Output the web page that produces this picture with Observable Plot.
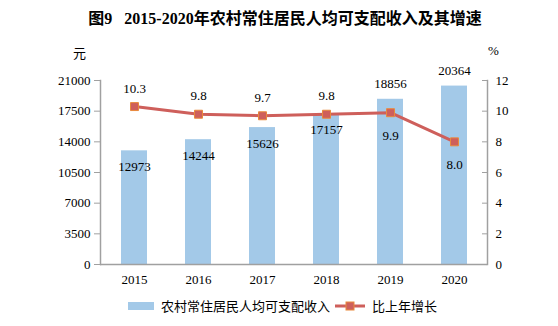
<!DOCTYPE html>
<html><head><meta charset="utf-8">
<script src="https://cdn.jsdelivr.net/npm/d3@7"></script>
<script src="https://cdn.jsdelivr.net/npm/@observablehq/plot@0.6"></script>
<style>
body{margin:0;background:#fff;}
#wrap{position:relative;width:558px;height:326px;overflow:hidden;font-family:"Liberation Serif","Noto Sans CJK SC",serif;color:#000;}
#title{position:absolute;left:0;width:570px;top:5px;text-align:center;font-size:16px;font-weight:bold;font-family:"Liberation Serif","Noto Sans CJK SC",serif;}
.unit{position:absolute;top:43px;font-size:13px;font-family:"Noto Sans CJK SC",sans-serif;}
#chart{position:absolute;left:0;top:30px;}
#legend{position:absolute;top:296px;left:128px;display:flex;align-items:center;font-size:13px;font-family:"Noto Sans CJK SC",sans-serif;}
#legend .sw{display:inline-block;}
</style></head>
<body><div id="wrap">
<div id="title">图9&nbsp;&nbsp; 2015-2020年农村常住居民人均可支配收入及其增速</div>
<div class="unit" style="left:73px">元</div>
<div class="unit" style="left:488px;font-family:'Liberation Serif',serif">%</div>
<div id="chart"></div>
<div id="legend">
  <span class="sw" style="width:26px;height:8px;background:#A3C9E8;margin-right:7px"></span><span>农村常住居民人均可支配收入</span>
  <svg width="34" height="12" style="margin:0 4px 0 4px"><line x1="1" y1="6" x2="31" y2="6" stroke="#CE5F5B" stroke-width="3"/><rect x="12" y="2" width="8" height="8" fill="#CE5F5B" stroke="#E98A3C"/></svg><span>比上年增长</span>
</div>
</div>
<script>
const years = ["2015","2016","2017","2018","2019","2020"];
const income = [12973, 14244, 15626, 17157, 18856, 20364];
const growth = [10.3, 9.8, 9.7, 9.8, 9.9, 8.0];
const leftTicks = [0, 3500, 7000, 10500, 14000, 17500, 21000];
const rightTicks = [0, 2, 4, 6, 8, 10, 12];

const ratio = 21000 / 12;
const data = years.map((y, i) => ({year: y, income: income[i], growth: growth[i], g: growth[i] * ratio, i}));
const font = "Liberation Serif";

const plot = Plot.plot({
  width: 558, height: 260,
  marginLeft: 100, marginRight: 71, marginTop: 50, marginBottom: 26,
  style: {fontFamily: font, fontSize: "13px", background: "transparent", color: "#000"},
  x: {type: "band", domain: years, paddingInner: 0.6, paddingOuter: 0.3, label: null},
  y: {domain: [0, 21000], label: null},
  marks: [
    Plot.barY(data, {x: "year", y: "income", fill: "#A3C9E8"}),
    Plot.ruleY([0], {stroke: "#A0A0A0", strokeWidth: 1.5}),
    Plot.frame({anchor: "left", stroke: "#A0A0A0", strokeWidth: 1.5}),
    Plot.frame({anchor: "right", stroke: "#A0A0A0", strokeWidth: 1.5}),
    Plot.axisY({anchor: "left", ticks: leftTicks, tickSize: 6, tickPadding: 4, stroke: "#A0A0A0", label: null, tickFormat: d => String(d)}),
    Plot.axisY({anchor: "right", ticks: rightTicks.map(t => t * ratio), tickSize: -6, tickPadding: 14, stroke: "#A0A0A0", label: null, tickFormat: d => String(Math.round(d / ratio))}),
    Plot.axisX({tickSize: 0, tickPadding: 10, label: null}),
    Plot.line(data, {x: "year", y: "g", stroke: "#CE5F5B", strokeWidth: 3}),
    Plot.dot(data, {x: "year", y: "g", symbol: "square", r: 4.5, fill: "#CE5F5B", stroke: "#E98A3C", strokeWidth: 1}),
    Plot.text(data.filter(d => d.i < 4), {x: "year", y: "income", text: d => String(d.income), dy: 16, fontSize: 13}),
    Plot.text(data.filter(d => d.i >= 4), {x: "year", y: "income", text: d => String(d.income), dy: -15, fontSize: 13}),
    Plot.text(data.filter(d => d.i < 4), {x: "year", y: "g", text: d => d.growth.toFixed(1), dy: -18, fontSize: 13}),
    Plot.text(data.filter(d => d.i >= 4), {x: "year", y: "g", text: d => d.growth.toFixed(1), dy: 23, fontSize: 13})
  ]
});
document.getElementById("chart").appendChild(plot);
</script>
</body></html>
